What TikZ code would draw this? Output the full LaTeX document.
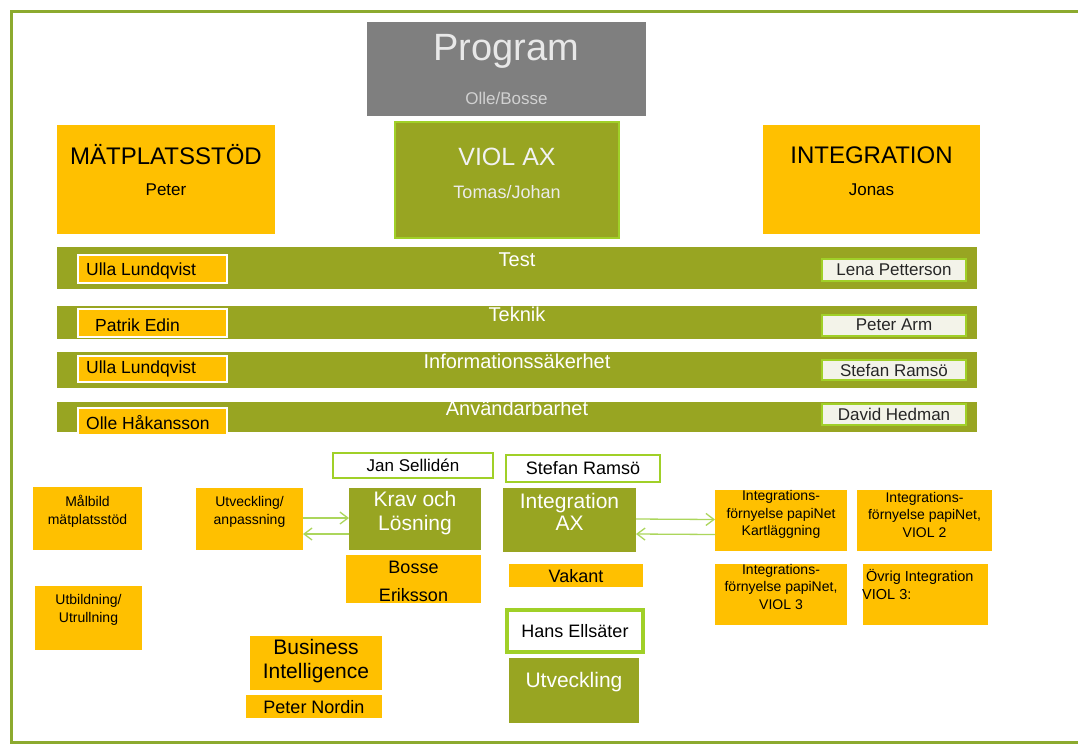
\documentclass[tikz,border=0pt]{standalone}
\usepackage{fontspec}
\setmainfont{Liberation Sans}
\usetikzlibrary{arrows.meta}
\definecolor{cOlive}{RGB}{152,165,34}
\definecolor{cOrange}{RGB}{255,192,0}
\definecolor{cLime}{RGB}{160,208,40}
\definecolor{cFrame}{RGB}{140,170,46}
\definecolor{cArrow}{RGB}{172,214,92}
\definecolor{cGray}{RGB}{127,127,127}
\definecolor{cCream}{RGB}{243,243,233}
\definecolor{cLight}{RGB}{232,232,232}
\newcommand\myfs[2]{\fontsize{#1}{#2}\selectfont}
\tikzset{
  bx/.style 2 args={inner sep=0pt, outer sep=0pt, minimum width=#1pt, minimum height=#2pt},
  orbox/.style={fill=cOrange},
  olbox/.style={fill=cOlive},
  namebox/.style={fill=cOrange, draw=white, line width=2pt},
  rnamebox/.style={fill=cCream, draw=cLime, line width=2.5pt},
  wbox/.style={fill=white, draw=cLime, line width=2.5pt},
  txt/.style={inner sep=0pt, align=center},
  fz/.style 2 args={font={\myfs{#1}{#2}}},
  arw/.style={draw=cArrow, line width=1.3pt, -{Straight Barb[length=8pt,width=12pt]}},
}
\begin{document}
\begin{tikzpicture}[x=1pt,y=-1pt]
\useasboundingbox (0,0) rectangle (1078,745);
\fill[white] (0,0) rectangle (1078,745);
% frame
\draw[cFrame, line width=3pt] (11,11) rectangle (1100,742);

% top boxes
\node[bx={279}{94}, fill=cGray] (prog) at (506.5,69) {};
\node[txt, text=cLight, fz={38}{40}] (progt) at (506.5,51) {Program};
\node[txt, text=cLight!90!black, fz={17}{19}] (progp) at (506.5,98) {Olle/Bosse};

\node[bx={224}{116}, olbox, draw=cLime, line width=2pt] (viol) at (507,180) {};
\node[txt, text=white!95!black, fz={25}{27}] (violt) at (507,157) {VIOL AX};
\node[txt, text=white!92!black, fz={18}{20}] (violp) at (507,192) {Tomas/Johan};

\node[bx={218}{109}, orbox] (mat) at (166,179.5) {};
\node[txt, fz={24}{26}] (matt) at (166,155) {MÄTPLATSSTÖD};
\node[txt, fz={17}{19}] (matp) at (166,190) {Peter};

\node[bx={217}{109}, orbox] (integ) at (871.5,179.5) {};
\node[txt, fz={24}{26}] (integt) at (871.5,155) {INTEGRATION};
\node[txt, fz={17}{19}] (integp) at (871.5,190) {Jonas};

% bars
\node[bx={920}{42}, olbox] (bar1) at (517,268) {};
\node[bx={920}{33}, olbox] (bar2) at (517,322.5) {};
\node[bx={920}{36}, olbox] (bar3) at (517,370) {};
\node[bx={920}{30}, olbox] (bar4) at (517,417) {};
\node[txt, text=white, fz={20}{22}] (bar1t) at (517,260) {Test};
\node[txt, text=white, fz={20}{22}] (bar2t) at (517,314) {Teknik};
\node[txt, text=white, fz={20}{22}] (bar3t) at (517,361) {Informationssäkerhet};
\node[txt, text=white, fz={20}{22}] (bar4t) at (517,408) {Användarbarhet};

% left name boxes
\node[bx={149}{28}, namebox] (l1) at (152.5,269) {};
\node[bx={149}{28}, namebox] (l2) at (152.5,323) {};
\node[bx={149}{26}, namebox] (l3) at (152.5,369) {};
\node[bx={149}{27}, namebox] (l4) at (152.5,421.5) {};
\node[txt, anchor=west, fz={17.5}{19}] (l1t) at (86,271) {Ulla Lundqvist};
\node[txt, anchor=west, fz={17.5}{19}] (l2t) at (95,325) {Patrik Edin};
\node[txt, anchor=west, fz={17.5}{19}] (l3t) at (86,369) {Ulla Lundqvist};
\node[txt, anchor=west, fz={17.5}{19}] (l4t) at (86,423) {Olle Håkansson};

% right name boxes
\node[bx={144}{22}, rnamebox] (r1) at (894,270) {};
\node[bx={144}{21}, rnamebox] (r2) at (894,325.5) {};
\node[bx={144}{20}, rnamebox] (r3) at (894,370) {};
\node[bx={144}{21}, rnamebox] (r4) at (894,414.5) {};
\node[txt, text=black!85, fz={17}{19}] (r1t) at (894,270) {Lena Petterson};
\node[txt, text=black!85, fz={17}{19}] (r2t) at (894,325) {Peter Arm};
\node[txt, text=black!85, fz={17}{19}] (r3t) at (894,370) {Stefan Ramsö};
\node[txt, text=black!85, fz={17}{19}] (r4t) at (894,414) {David Hedman};

% bottom left
\node[bx={109}{63}, orbox] (malb) at (87.5,518.5) {};
\node[txt, fz={14}{18}] (malbt) at (87.5,511.5) {Målbild\\mätplatsstöd};
\node[bx={107}{64}, orbox] (utb) at (88.5,618) {};
\node[txt, fz={14}{18}] (utbt) at (88.5,610) {Utbildning/\\Utrullning};

\node[bx={107}{62}, orbox] (utv) at (249.5,519) {};
\node[txt, fz={14}{18}] (utvt) at (249.5,512) {Utveckling/\\anpassning};

\node[bx={160}{25}, wbox] (jan) at (413,465.5) {};
\node[txt, fz={17}{19}] (jant) at (413,465.5) {Jan Sellidén};
\node[bx={132}{62}, olbox] (krav) at (415,519) {};
\node[txt, text=white, fz={21}{24}] (kravt) at (415,513) {Krav och\\Lösning};
\node[bx={135}{48}, orbox] (bosse) at (413.5,579) {};
\node[txt, fz={18}{28}] (bosset) at (413.5,581.5) {Bosse\\Eriksson};

\node[bx={132}{54}, orbox] (bi) at (316,663) {};
\node[txt, fz={21}{24}] (bit) at (316,661) {Business\\Intelligence};
\node[bx={136}{23}, orbox] (pn) at (314,706.5) {};
\node[txt, fz={18}{20}] (pnt) at (314,707) {Peter Nordin};

\draw[arw] ([yshift=1pt]utv.east) -- ([yshift=1pt]krav.west);
\draw[arw] ([yshift=-15pt]krav.west) -- ([yshift=-15pt]utv.east);

% bottom middle
\node[bx={154}{27}, wbox] (stef) at (583,468.5) {};
\node[txt, fz={18}{20}] (steft) at (583,468.5) {Stefan Ramsö};
\node[bx={133}{64}, olbox] (iax) at (569.5,520) {};
\node[txt, text=white, fz={21}{22}] (iaxt) at (569.5,512) {Integration\\AX};
\node[bx={134}{23}, orbox] (vak) at (576,575.5) {};
\node[txt, fz={18}{20}] (vakt) at (576,576) {Vakant};
\node[bx={136}{42}, fill=white, draw=cLime, line width=3.5pt] (hans) at (575,631) {};
\node[txt, fz={18}{20}] (hanst) at (575,631) {Hans Ellsäter};
\node[bx={130}{65}, olbox] (utvk) at (574,690.5) {};
\node[txt, text=white, fz={21}{23}] (utvkt) at (574,682) {Utveckling};

% bottom right
\node[bx={132}{61}, orbox] (kart) at (781,520.5) {};
\node[txt, fz={14}{17.5}] (kartt) at (781,514.5) {Integrations-\\förnyelse papiNet\\Kartläggning};
\node[bx={135}{61}, orbox] (v2) at (924.5,520.5) {};
\node[txt, fz={14}{17.5}] (v2t) at (924.5,514.5) {Integrations-\\förnyelse papiNet,\\VIOL 2};
\node[bx={132}{61}, orbox] (v3) at (781,594.5) {};
\node[txt, fz={14}{17.5}] (v3t) at (781,586.5) {Integrations-\\förnyelse papiNet,\\VIOL 3};
\node[bx={125}{61}, orbox] (ovr) at (925.5,594.5) {};
\node[txt, align=left, anchor=north west, fz={14.5}{18}] (ovrt) at (862,569) {\hspace*{4pt}Övrig Integration\\VIOL 3:};

\draw[arw] ([yshift=1pt]iax.east) -- ([yshift=1pt]kart.west);
\draw[arw] ([yshift=-14pt]kart.west) -- ([yshift=-14pt]iax.east);
\end{tikzpicture}
\end{document}
